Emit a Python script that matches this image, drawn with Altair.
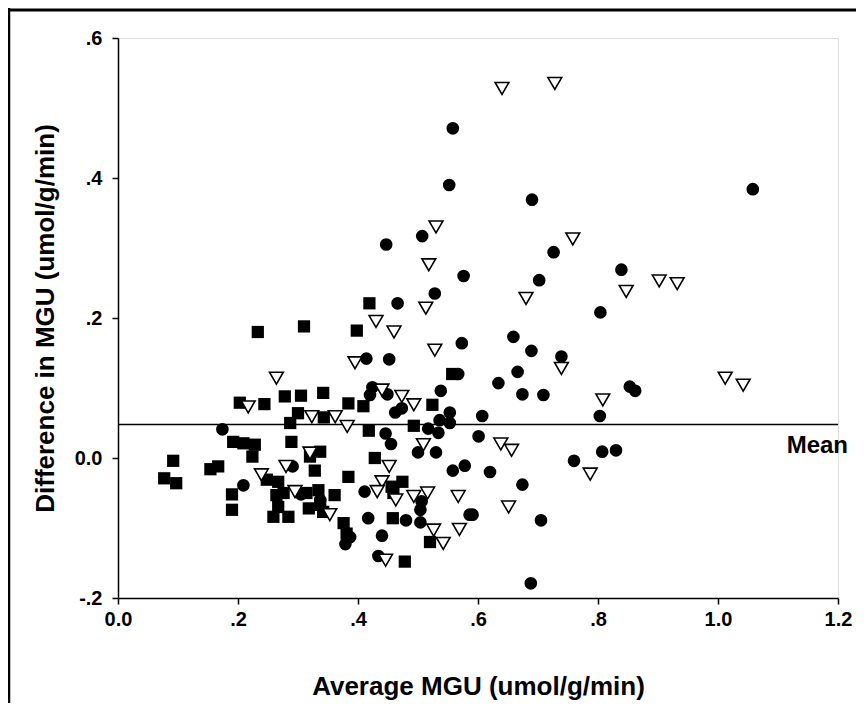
import altair as alt
import pandas as pd

# ---- data ----
square_x = [0.233, 0.203, 0.244, 0.192, 0.209, 0.228, 0.224, 0.092, 0.154, 0.167,
            0.077, 0.097, 0.190, 0.190, 0.248, 0.267, 0.264, 0.276, 0.259, 0.284,
            0.267, 0.419, 0.310, 0.398, 0.557, 0.278, 0.305, 0.342, 0.384, 0.409,
            0.524, 0.300, 0.343, 0.287, 0.418, 0.493, 0.289, 0.337, 0.320, 0.328,
            0.428, 0.384, 0.456, 0.474, 0.459, 0.361, 0.314, 0.334, 0.318, 0.342,
            0.337, 0.376, 0.381, 0.458, 0.520, 0.478]
square_y = [0.180, 0.079, 0.077, 0.023, 0.021, 0.019, 0.002, -0.004, -0.016, -0.012,
            -0.029, -0.036, -0.052, -0.074, -0.031, -0.034, -0.053, -0.050, -0.084, -0.084,
            -0.070, 0.221, 0.188, 0.182, 0.120, 0.088, 0.089, 0.093, 0.078, 0.074,
            0.076, 0.064, 0.058, 0.050, 0.039, 0.046, 0.023, 0.009, 0.002, -0.018,
            0.000, -0.027, -0.041, -0.034, -0.050, -0.053, -0.050, -0.046, -0.072, -0.077,
            -0.067, -0.093, -0.108, -0.086, -0.120, -0.148]

circle_x = [0.174, 0.209, 0.466, 0.573, 0.414, 0.452, 0.567, 0.424, 0.420, 0.449,
            0.462, 0.473, 0.538, 0.553, 0.536, 0.553, 0.517, 0.534, 0.446, 0.455,
            0.500, 0.530, 0.291, 0.558, 0.578, 0.411, 0.506, 0.504, 0.305, 0.337,
            0.417, 0.480, 0.504, 0.586, 0.387, 0.379, 0.440, 0.434, 0.558, 0.552,
            0.690, 0.726, 0.576, 0.702, 0.839, 0.528, 1.058, 0.804, 0.739, 0.853,
            0.862, 0.659, 0.689, 0.666, 0.634, 0.674, 0.709, 0.803, 0.607, 0.601,
            0.760, 0.807, 0.830, 0.620, 0.674, 0.591, 0.705, 0.688, 0.447, 0.507]
circle_y = [0.041, -0.039, 0.221, 0.164, 0.142, 0.141, 0.120, 0.101, 0.090, 0.091,
            0.065, 0.071, 0.096, 0.065, 0.054, 0.050, 0.042, 0.036, 0.035, 0.020,
            0.008, 0.008, -0.012, -0.018, -0.011, -0.048, -0.062, -0.074, -0.052, -0.060,
            -0.086, -0.089, -0.092, -0.081, -0.113, -0.123, -0.111, -0.140, 0.471, 0.390,
            0.369, 0.294, 0.260, 0.254, 0.269, 0.235, 0.384, 0.208, 0.145, 0.102,
            0.096, 0.173, 0.153, 0.123, 0.107, 0.091, 0.090, 0.060, 0.060, 0.031,
            -0.004, 0.009, 0.011, -0.020, -0.038, -0.081, -0.089, -0.179, 0.305, 0.317]

tri_x = [0.264, 0.217, 0.239, 0.513, 0.430, 0.460, 0.528, 0.395, 0.440, 0.473,
         0.493, 0.323, 0.362, 0.382, 0.509, 0.320, 0.280, 0.452, 0.440, 0.432,
         0.463, 0.493, 0.516, 0.567, 0.353, 0.526, 0.569, 0.542, 0.446, 0.640,
         0.728, 0.758, 0.847, 0.680, 0.530, 0.518, 0.902, 0.932, 0.739, 1.012,
         1.042, 0.808, 0.638, 0.656, 0.787, 0.651, 0.295]
tri_y = [0.114, 0.073, -0.024, 0.214, 0.195, 0.180, 0.154, 0.136, 0.097, 0.088,
         0.076, 0.059, 0.059, 0.045, 0.019, 0.007, -0.012, -0.012, -0.034, -0.048,
         -0.060, -0.055, -0.050, -0.055, -0.081, -0.103, -0.102, -0.122, -0.146, 0.528,
         0.535, 0.313, 0.238, 0.228, 0.330, 0.276, 0.253, 0.249, 0.128, 0.114,
         0.104, 0.083, 0.020, 0.011, -0.023, -0.070, -0.048]

mean_diff = 0.048
mean_label = "Mean"

x_ticks = [0.0, 0.2, 0.4, 0.6, 0.8, 1.0, 1.2]
x_tick_labels = ["0.0", ".2", ".4", ".6", ".8", "1.0", "1.2"]
y_ticks = [-0.2, 0.0, 0.2, 0.4, 0.6]
y_tick_labels = ["-.2", "0.0", ".2", ".4", ".6"]

x_title = "Average MGU (umol/g/min)"
y_title = "Difference in MGU (umol/g/min)"

# ---- tables ----
df = pd.concat([
    pd.DataFrame({"avg": square_x, "diff": square_y, "grp": "square"}),
    pd.DataFrame({"avg": circle_x, "diff": circle_y, "grp": "circle"}),
    pd.DataFrame({"avg": tri_x, "diff": tri_y, "grp": "triangle"}),
], ignore_index=True)

mean_df = pd.DataFrame({"x0": [0.0], "x1": [1.2], "y": [mean_diff], "label": [mean_label]})
frame_df = pd.DataFrame({"k": [0]})

FONT = "Liberation Sans"

def js_list(items):
    return "[" + ",".join("'" + s + "'" for s in items) + "]"

x_scale = alt.Scale(domain=[0, 1.2], nice=False, zero=False)
y_scale = alt.Scale(domain=[-0.2, 0.6], nice=False, zero=False)

common_axis = dict(
    grid=False, labelFontSize=20, labelFontWeight="bold", labelFont=FONT,
    titleFontSize=26, titleFontWeight="bold", titleFont=FONT,
    tickSize=6, tickWidth=1.5, domainWidth=1.5, domainColor="black",
    tickColor="black", labelColor="black", titleColor="black", labelFlush=False,
)

x_axis = alt.Axis(values=x_ticks, title=x_title,
                  labelExpr=js_list(x_tick_labels) + "[round(datum.value*5)]",
                  labelPadding=5, titlePadding=44, **common_axis)
y_axis = alt.Axis(values=y_ticks, title=y_title,
                  labelExpr=js_list(y_tick_labels) + "[round((datum.value+0.2)*5)]",
                  labelPadding=10, titlePadding=16, **common_axis)

base = alt.Chart(df)

squares = base.transform_filter(alt.datum.grp == "square").mark_point(
    shape="square", filled=True, color="black", size=150, opacity=1
).encode(x=alt.X("avg:Q", scale=x_scale, axis=x_axis),
         y=alt.Y("diff:Q", scale=y_scale, axis=y_axis))

circles = base.transform_filter(alt.datum.grp == "circle").mark_point(
    shape="circle", filled=True, color="black", size=160, opacity=1
).encode(x="avg:Q", y="diff:Q")

triangles = base.transform_filter(alt.datum.grp == "triangle").mark_point(
    shape="triangle-down", filled=False, fill="white", fillOpacity=1,
    stroke="black", strokeWidth=1.6, size=190, opacity=1
).encode(x="avg:Q", y="diff:Q")

mean_line = alt.Chart(mean_df).mark_rule(color="black", strokeWidth=1.5).encode(
    x="x0:Q", x2="x1:Q", y="y:Q")

mean_text = alt.Chart(mean_df).mark_text(
    align="right", baseline="top", dx=10, dy=10, fontSize=24, fontWeight="bold",
    font=FONT, color="black"
).encode(x="x1:Q", y="y:Q", text="label:N")

frame_top = alt.Chart(frame_df).mark_rule(color="black", strokeWidth=3).encode(
    x=alt.value(-112), x2=alt.value(760), y=alt.value(-28))
frame_left = alt.Chart(frame_df).mark_rule(color="black", strokeWidth=2.5).encode(
    x=alt.value(-109), y=alt.value(-30), y2=alt.value(720))

chart = alt.layer(
    frame_top, frame_left, mean_line, squares, circles, triangles, mean_text
).properties(
    width=720, height=560,
    autosize=alt.AutoSizeParams(type="none"),
    padding={"left": 110, "top": 30, "right": 18, "bottom": 105},
).configure_view(stroke=None).configure(font=FONT)

chart.save("out.html", embed_options={"renderer": "svg", "actions": False})
